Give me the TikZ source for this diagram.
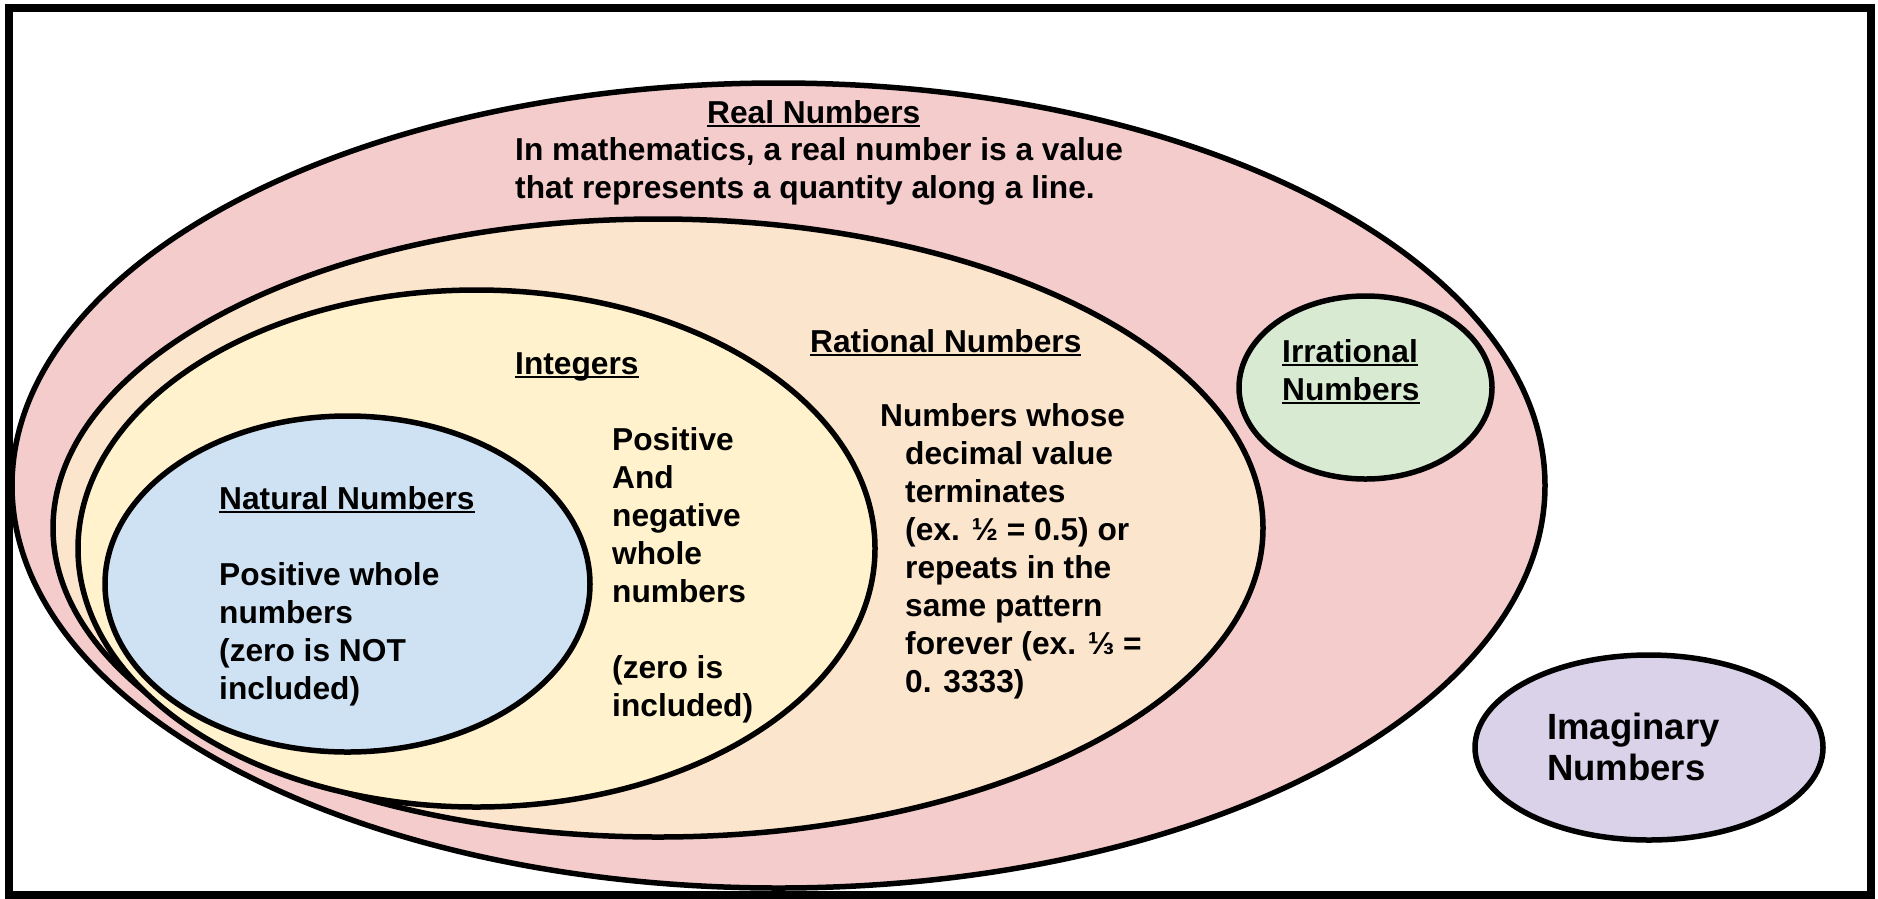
\documentclass[tikz,border=0pt]{standalone}
\usepackage{fontspec}
\setmainfont{Liberation Sans}
\usepackage{tikz}
\usetikzlibrary{shapes.geometric}

\definecolor{realpink}{HTML}{F4CCCC}
\definecolor{ratpeach}{HTML}{FCE5CD}
\definecolor{intyellow}{HTML}{FFF2CC}
\definecolor{natblue}{HTML}{CFE2F3}
\definecolor{irrgreen}{HTML}{D9EAD3}
\definecolor{imagpurple}{HTML}{D9D2E9}

\newcommand{\ulbox}[1]{\setbox0=\hbox{#1}\rlap{\rule[-4pt]{\wd0}{2.4pt}}\box0}
\newcommand{\shiftin}{\hspace*{25pt}}

\tikzset{
  numset/.style={ellipse, draw, line width=5.5pt, inner sep=0pt, outer sep=0pt},
  % multi-line texts sit on the baseline of their last line
  settext/.style={anchor=base west, align=left, inner sep=0pt,
    font=\bfseries\fontsize{31.7}{38}\selectfont}
}

\begin{document}
\begin{tikzpicture}[x=1pt, y=-1pt]
  \useasboundingbox (0,0) rectangle (1878,898);
  % frame
  \draw[line width=8.5pt] (9,8) rectangle (1871,895);
  % nested sets
  \node[numset, fill=realpink, minimum width=1533pt, minimum height=805pt] (real) at (778.5,485.5) {};
  \node[numset, fill=ratpeach, minimum width=1210pt, minimum height=618pt] (rational) at (658,528) {};
  \node[numset, fill=intyellow, minimum width=797pt, minimum height=517pt] (integers) at (476.5,548.5) {};
  \node[numset, fill=natblue, minimum width=485pt, minimum height=336pt] (natural) at (347.5,584) {};
  \node[numset, fill=irrgreen, minimum width=253pt, minimum height=183pt] (irrational) at (1365.5,387.5) {};
  \node[numset, fill=imagpurple, minimum width=348pt, minimum height=185pt] (imaginary) at (1649,747.5) {};
  % labels
  \node[settext] (realtitle) at (707,123) {\ulbox{Real Numbers}};
  \node[settext] (realtext) at (515,198)
    {In mathematics, a real number is a value\\that represents a quantity along a line.};
  \node[settext] (rattitle) at (810,352) {\ulbox{Rational Numbers}};
  \node[settext] (rattext) at (880,692)
    {Numbers whose\\\shiftin decimal value\\\shiftin terminates\\\shiftin (ex. ½ = 0.5) or\\
     \shiftin repeats in the\\\shiftin same pattern\\\shiftin forever (ex. ⅓ =\\\shiftin 0. 3333)};
  \node[settext] (inttitle) at (515,374) {\ulbox{Integers}};
  \node[settext] (inttext) at (612,716)
    {Positive\\And\\negative\\whole\\numbers\\[38pt](zero is\\included)};
  \node[settext] (nattext) at (219,699)
    {\ulbox{Natural Numbers}\\[38pt]Positive whole\\numbers\\(zero is NOT\\included)};
  \node[settext] (irrtext) at (1282,400) {\ulbox{Irrational}\\\ulbox{Numbers}};
  \node[settext, font=\bfseries\fontsize{36.5}{40.5}\selectfont] (imagtext) at (1547,780)
    {Imaginary\\Numbers};
\end{tikzpicture}
\end{document}
